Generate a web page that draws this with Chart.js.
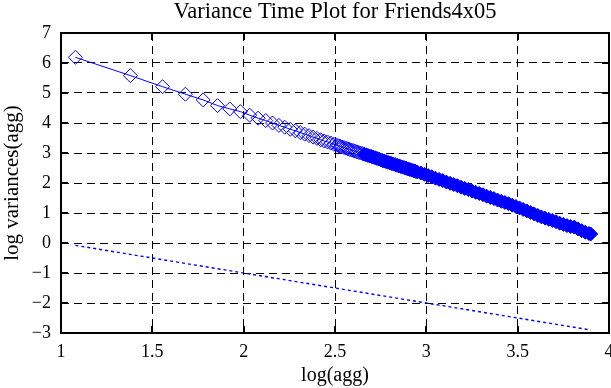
<!DOCTYPE html>
<html>
<head>
<meta charset="utf-8">
<script src="https://cdn.jsdelivr.net/npm/chart.js@4/dist/chart.umd.min.js"></script>
<style>
  html, body { margin: 0; padding: 0; background: #fff; overflow: hidden; }
  canvas { display: block; }
</style>
</head>
<body>
<canvas id="vtp" width="611" height="388"></canvas>
<script>
// Data: x = log(agg), y = log variances(agg)
const logAgg = [
    1.079, 1.380, 1.556, 1.681, 1.778, 1.857, 1.924, 1.982, 2.033, 2.079,
    2.121, 2.158, 2.193, 2.225, 2.255, 2.283, 2.310, 2.334, 2.358, 2.380,
    2.401, 2.422, 2.441, 2.459, 2.477, 2.494,
    2.51, 2.52, 2.53, 2.54, 2.55, 2.56, 2.57, 2.58, 2.59, 2.60,
    2.61, 2.62, 2.63, 2.64, 2.65, 2.66, 2.67, 2.68, 2.69, 2.70,
    2.71, 2.72, 2.73, 2.74, 2.75, 2.76, 2.77, 2.78, 2.79, 2.80,
    2.81, 2.82, 2.83, 2.84, 2.85, 2.86, 2.87, 2.88, 2.89, 2.90,
    2.91, 2.92, 2.93, 2.94, 2.95,
    2.97, 2.99, 3.01, 3.03, 3.05, 3.07, 3.09, 3.11, 3.13, 3.15,
    3.17, 3.19, 3.21, 3.23, 3.25, 3.27, 3.29, 3.31, 3.33, 3.35,
    3.37, 3.39, 3.41, 3.43, 3.45, 3.47, 3.49, 3.51, 3.53, 3.55,
    3.57, 3.59, 3.61, 3.63, 3.65, 3.67, 3.69, 3.71, 3.73, 3.75,
    3.77, 3.79, 3.81, 3.83, 3.85, 3.87, 3.89, 3.90
];
const logVar = [
    6.19, 5.58, 5.21, 4.96, 4.77, 4.58, 4.47, 4.38, 4.26, 4.16,
    4.08, 4.00, 3.92, 3.86, 3.79, 3.74, 3.68, 3.63, 3.58, 3.53,
    3.49, 3.44, 3.40, 3.37, 3.33, 3.29,
    3.26, 3.24, 3.22, 3.20, 3.18, 3.16, 3.14, 3.12, 3.10, 3.08,
    3.06, 3.04, 3.02, 3.00, 2.98, 2.96, 2.94, 2.92, 2.90, 2.88,
    2.86, 2.84, 2.82, 2.80, 2.77, 2.75, 2.73, 2.71, 2.69, 2.67,
    2.65, 2.63, 2.61, 2.59, 2.57, 2.55, 2.53, 2.51, 2.49, 2.47,
    2.45, 2.43, 2.41, 2.39, 2.37,
    2.33, 2.29, 2.25, 2.21, 2.16, 2.12, 2.08, 2.03, 1.99, 1.95,
    1.91, 1.86, 1.82, 1.78, 1.73, 1.69, 1.65, 1.61, 1.56, 1.52,
    1.48, 1.43, 1.39, 1.35, 1.31, 1.26, 1.22, 1.17, 1.12, 1.07,
    1.02, 0.97, 0.92, 0.87, 0.83, 0.79, 0.75, 0.71, 0.66, 0.62,
    0.58, 0.55, 0.53, 0.47, 0.41, 0.36, 0.32, 0.30
];

// reference line (slope -1)
const refX = [1.079, 3.90];
const refY = [-0.079, -2.90];

const xTicks = [1, 1.5, 2, 2.5, 3, 3.5, 4];
const yTicks = [-3, -2, -1, 0, 1, 2, 3, 4, 5, 6, 7];

const BLUE = '#0000ff';
const FONT = "'Liberation Serif', 'Times New Roman', serif";

const toPoints = (xs, ys) => xs.map((x, i) => ({ x: x, y: ys[i] }));
const fmtMinus = (v) => (v < 0 ? '\u2212' + Math.abs(v) : String(v));

// frame + inward tick marks on all four sides
const framePlugin = {
    id: 'frame',
    afterDatasetsDraw(chart) {
        const { ctx, chartArea: a, scales } = chart;
        ctx.save();
        ctx.strokeStyle = '#000';
        ctx.lineWidth = 2;
        ctx.strokeRect(a.left, a.top, a.right - a.left, a.bottom - a.top);
        const len = 7;
        ctx.beginPath();
        xTicks.forEach(v => {
            const px = Math.round(scales.x.getPixelForValue(v));
            ctx.moveTo(px, a.bottom); ctx.lineTo(px, a.bottom - len);
            ctx.moveTo(px, a.top); ctx.lineTo(px, a.top + len);
        });
        yTicks.forEach(v => {
            const py = Math.round(scales.y.getPixelForValue(v));
            ctx.moveTo(a.left, py); ctx.lineTo(a.left + len, py);
            ctx.moveTo(a.right, py); ctx.lineTo(a.right - len, py);
        });
        ctx.stroke();
        ctx.restore();
    }
};

new Chart(document.getElementById('vtp'), {
    type: 'scatter',
    data: {
        datasets: [
            {
                label: 'variance',
                data: toPoints(logAgg, logVar),
                showLine: true,
                borderColor: BLUE,
                borderWidth: 1,
                pointStyle: 'rectRot',
                pointRadius: 7,
                pointBorderWidth: 1,
                pointBorderColor: BLUE,
                pointBackgroundColor: (c) => (c.raw && c.raw.x >= 2.66 ? BLUE : 'rgba(0,0,0,0)')
            },
            {
                label: 'reference',
                data: toPoints(refX, refY),
                showLine: true,
                borderColor: BLUE,
                borderWidth: 1.4,
                borderDash: [3, 3],
                pointRadius: 0
            }
        ]
    },
    options: {
        responsive: false,
        animation: false,
        layout: { autoPadding: false, padding: { left: 0, right: 2, top: 0, bottom: 0 } },
        plugins: {
            legend: { display: false },
            tooltip: { enabled: false },
            title: { display: false }
        },
        scales: {
            // top axis only carries the plot title, centred over the plot area
            top: {
                type: 'linear',
                position: 'top',
                min: 1,
                max: 4,
                afterFit: (s) => { s.height = 33; },
                ticks: { display: false },
                grid: { display: false, drawTicks: false },
                border: { display: false },
                title: {
                    display: true,
                    text: 'Variance Time Plot for Friends4x05',
                    color: '#000',
                    font: { family: FONT, size: 22.5, lineHeight: 1.1 },
                    padding: { top: 0, bottom: 0 }
                }
            },
            x: {
                type: 'linear',
                min: 1,
                max: 4,
                afterBuildTicks: (s) => { s.ticks = xTicks.map(v => ({ value: v })); },
                afterFit: (s) => { s.height = 55; s.paddingRight = 0; },
                ticks: {
                    color: '#000',
                    font: { family: FONT, size: 18 },
                    padding: 8,
                    maxRotation: 0,
                    callback: (v) => String(v)
                },
                grid: { color: '#000', lineWidth: 1, drawTicks: false },
                border: { display: false, dash: [8, 5] },
                title: {
                    display: true,
                    text: 'log(agg)',
                    color: '#000',
                    font: { family: FONT, size: 20 },
                    padding: { top: 0, bottom: 0 }
                }
            },
            y: {
                type: 'linear',
                min: -3,
                max: 7,
                afterBuildTicks: (s) => { s.ticks = yTicks.map(v => ({ value: v })); },
                afterFit: (s) => { s.width = 61; },
                ticks: {
                    color: '#000',
                    font: { family: FONT, size: 18 },
                    padding: 10,
                    callback: fmtMinus
                },
                grid: { color: '#000', lineWidth: 1, drawTicks: false },
                border: { display: false, dash: [8, 5] },
                title: {
                    display: true,
                    text: 'log variances(agg)',
                    color: '#000',
                    font: { family: FONT, size: 21 },
                    padding: { top: 0, bottom: 0 }
                }
            }
        }
    },
    plugins: [framePlugin]
});
</script>
</body>
</html>
